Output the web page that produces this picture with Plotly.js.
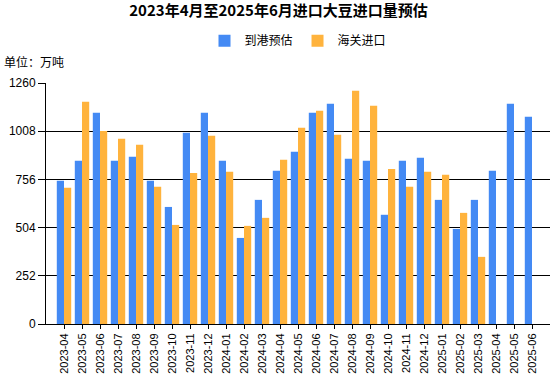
<!DOCTYPE html>
<html><head><meta charset="utf-8">
<script src="https://cdn.plot.ly/plotly-3.0.1.min.js"></script>
<style>html,body{margin:0;padding:0;background:#fff}#c{width:557px;height:375px}</style>
</head><body><div id="c"></div>
<script>
const months = ["2023-04","2023-05","2023-06","2023-07","2023-08","2023-09","2023-10","2023-11","2023-12",
"2024-01","2024-02","2024-03","2024-04","2024-05","2024-06","2024-07","2024-08","2024-09","2024-10","2024-11","2024-12",
"2025-01","2025-02","2025-03","2025-04","2025-05","2025-06"];
const arrivalEst = [749,853,1105,853,874,749,612,1000,1105,853,450,649,801,900,1105,1152,864,853,571,853,869,649,497,649,801,1152,1084];
const customsImport = [712,1162,1009,968,937,717,518,790,984,796,513,555,859,1026,1115,989,1220,1141,811,717,796,780,581,351,null,null,null];
const yTicks = [0,252,504,756,1008,1260];

const data = [
 {type:"bar", name:"到港预估", x:months, y:arrivalEst, marker:{color:"#448AF4"}},
 {type:"bar", name:"海关进口", x:months, y:customsImport, marker:{color:"#FFB33D"}}
];
const layout = {
 width:557, height:375,
 margin:{l:46,r:7,t:83,b:51},
 paper_bgcolor:"#fff", plot_bgcolor:"#fff",
 barmode:"group", bargap:0.2, bargroupgap:0,
 title:{text:"<b>2023年4月至2025年6月进口大豆进口量预估</b>", x:0.5, xanchor:"center", y:0.985, yanchor:"top",
   font:{family:"Noto Sans CJK SC", size:15, color:"#000"}},
 showlegend:true,
 legend:{orientation:"h", x:0.5, xanchor:"center", y:0.93, yref:"container", yanchor:"top",
   font:{family:"Noto Sans CJK SC", size:12, color:"#000"}, itemwidth:30, traceorder:"normal"},
 font:{family:"Liberation Sans", size:11, color:"#000"},
 xaxis:{type:"category", range:[-1,27], tickangle:-90, ticks:"outside", ticklen:4, tickcolor:"#000",
   showline:true, linecolor:"#000", linewidth:1, showgrid:false, tickfont:{family:"Liberation Sans Narrow, Liberation Sans", size:11, color:"#000"}, fixedrange:true},
 yaxis:{range:[0,1260], tickvals:yTicks, ticks:"outside", ticklen:7, tickcolor:"#000",
   showline:true, linecolor:"#000", linewidth:1, showgrid:true, gridcolor:"#000", gridwidth:1,
   zeroline:false, tickfont:{family:"Liberation Sans", size:12, color:"#000"}, fixedrange:true},
 annotations:[{text:"单位：万吨", xref:"paper", yref:"paper", x:0, y:1, xshift:-44, yshift:11, xanchor:"left", yanchor:"bottom",
   showarrow:false, font:{family:"Noto Sans CJK SC", size:12, color:"#000"}}]
};
Plotly.newPlot("c", data, layout, {displayModeBar:false, staticPlot:true});
</script></body></html>
